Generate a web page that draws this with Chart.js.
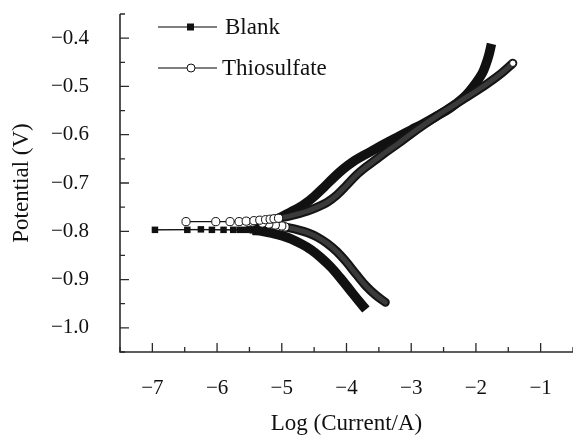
<!DOCTYPE html>
<html>
<head>
<meta charset="utf-8">
<script src="https://cdn.jsdelivr.net/npm/chart.js@4"></script>
<style>
  html, body { margin: 0; padding: 0; background: #fff; }
  #wrap { width: 573px; height: 435px; }
</style>
</head>
<body>
<div id="wrap"><canvas id="tafel"></canvas></div>
<script>
// ----------------------
// Polarisation data: log(current / A) vs potential (V)
// ----------------------
const blankCathodicLogI = [-3.70, -3.80, -3.95, -4.10, -4.25, -4.40, -4.55, -4.70, -4.85, -5.00, -5.15, -5.30, -5.45];
const blankCathodicE    = [-0.962, -0.946, -0.921, -0.896, -0.873, -0.854, -0.838, -0.826, -0.816, -0.809, -0.804, -0.800, -0.798];

const blankCorrLogI = [-5.45, -5.55, -5.75, -6.08, -6.46, -6.96, -6.25, -5.90, -5.65, -5.50, -5.40];
const blankCorrE    = [-0.798, -0.797, -0.797, -0.797, -0.797, -0.797, -0.796, -0.797, -0.797, -0.796, -0.795];

const blankAnodicLogI = [-5.40, -5.25, -5.10, -4.95, -4.80, -4.65, -4.50, -4.35, -4.20, -4.05, -3.90, -3.75, -3.60,
                         -3.40, -3.20, -3.00, -2.80, -2.60, -2.40, -2.20, -2.10, -2.00, -1.90, -1.85, -1.80, -1.76];
const blankAnodicE    = [-0.795, -0.788, -0.777, -0.766, -0.756, -0.744, -0.728, -0.709, -0.689, -0.671, -0.656, -0.644, -0.633,
                         -0.618, -0.604, -0.590, -0.576, -0.561, -0.545, -0.524, -0.510, -0.493, -0.472, -0.456, -0.435, -0.412];

const thioCathodicLogI = [-3.40, -3.55, -3.70, -3.85, -4.00, -4.15, -4.30, -4.45, -4.60, -4.75, -4.95];
const thioCathodicE    = [-0.947, -0.932, -0.913, -0.889, -0.864, -0.842, -0.825, -0.812, -0.803, -0.797, -0.791];

const thioCorrLogI = [-4.95, -5.00, -5.10, -5.20, -5.30, -5.45, -5.66, -6.02, -6.48,
                      -5.80, -5.55, -5.43, -5.34, -5.25, -5.18, -5.12, -5.05];
const thioCorrE    = [-0.791, -0.789, -0.787, -0.785, -0.783, -0.781, -0.780, -0.780, -0.780,
                      -0.780, -0.779, -0.778, -0.777, -0.776, -0.775, -0.774, -0.773];

const thioAnodicLogI = [-5.05, -4.90, -4.75, -4.60, -4.45, -4.30, -4.15, -4.00, -3.85, -3.70, -3.55,
                        -3.40, -3.20, -3.00, -2.80, -2.60, -2.40, -2.20, -2.00, -1.80, -1.60, -1.43];
const thioAnodicE    = [-0.773, -0.769, -0.764, -0.758, -0.750, -0.740, -0.725, -0.705, -0.684, -0.667, -0.652,
                        -0.637, -0.618, -0.598, -0.579, -0.561, -0.544, -0.527, -0.510, -0.492, -0.472, -0.452];

const seriesNames = ["Blank", "Thiosulfate"];

const pts = (xs, ys) => xs.map((x, i) => ({ x, y: ys[i] }));

const serif = "'Liberation Serif', 'Times New Roman', serif";
const ink = "#111";

// ----------------------
// Axes with inward ticks; x axis runs to the canvas edge
// ----------------------
const axesPlugin = {
  id: "axes",
  afterLayout(chart) {
    const x = chart.scales.x;
    const a = chart.chartArea;
    a.right = chart.width;
    a.width = a.right - a.left;
    x.right = chart.width;
    x.width = x.right - x.left;
    x.configure();
  },
  beforeDatasetsDraw(chart) {
    const { ctx, chartArea: a, scales: { x, y } } = chart;
    ctx.save();
    ctx.strokeStyle = "#2a2a2a";
    ctx.lineWidth = 1.6;
    ctx.beginPath();
    ctx.moveTo(a.left, a.top);
    ctx.lineTo(a.left, a.bottom);
    ctx.lineTo(a.right, a.bottom);
    ctx.stroke();

    ctx.lineWidth = 1.3;
    ctx.beginPath();
    x.ticks.forEach(t => {
      const px = x.getPixelForValue(t.value);
      const major = Math.abs(t.value - Math.round(t.value)) < 1e-6;
      ctx.moveTo(px, a.bottom);
      ctx.lineTo(px, a.bottom - (major ? 9 : 5));
    });
    y.ticks.forEach(t => {
      const py = y.getPixelForValue(t.value);
      const major = Math.round(t.value * 20) % 2 === 0;
      ctx.moveTo(a.left, py);
      ctx.lineTo(a.left + (major ? 9 : 5), py);
    });
    ctx.stroke();
    ctx.restore();
  }
};

// ----------------------
// Legend: line + marker + name
// ----------------------
const legendPlugin = {
  id: "tafelLegend",
  afterDraw(chart) {
    const { ctx } = chart;
    const rows = [
      { y: 27, textX: 225, marker: "square" },
      { y: 68, textX: 222, marker: "circle" }
    ];
    ctx.save();
    rows.forEach((r, i) => {
      ctx.strokeStyle = "#555";
      ctx.lineWidth = 1.4;
      ctx.beginPath();
      ctx.moveTo(158, r.y);
      ctx.lineTo(217, r.y);
      ctx.stroke();
      if (r.marker === "square") {
        ctx.fillStyle = ink;
        ctx.fillRect(187, r.y - 3.5, 7, 7);
      } else {
        ctx.fillStyle = "#fff";
        ctx.strokeStyle = ink;
        ctx.lineWidth = 1;
        ctx.beginPath();
        ctx.arc(191, r.y, 4, 0, Math.PI * 2);
        ctx.fill();
        ctx.stroke();
      }
      ctx.fillStyle = ink;
      ctx.font = "23px " + serif;
      ctx.textBaseline = "middle";
      ctx.fillText(seriesNames[i], r.textX, r.y + 1);
    });
    ctx.restore();
  }
};

const minus = s => (s.startsWith("-") ? "\u2212" + s.slice(1) : s);

// thick band for one polarisation branch
const band = (label, xs, ys, color, width, cap, order, extra) => Object.assign({
  label,
  data: pts(xs, ys),
  showLine: true,
  borderColor: color,
  borderWidth: width,
  borderCapStyle: cap,
  borderJoinStyle: "round",
  tension: 0.35,
  pointRadius: 0,
  order
}, extra || {});

new Chart(document.getElementById("tafel"), {
  type: "scatter",
  data: {
    datasets: [
      // Blank
      band("Blank cathodic", blankCathodicLogI, blankCathodicE, ink, 9.5, "butt", 6),
      band("Blank anodic", blankAnodicLogI, blankAnodicE, ink, 9.5, "butt", 6),
      {
        label: "Blank",
        data: pts(blankCorrLogI, blankCorrE),
        showLine: true, borderColor: ink, borderWidth: 1,
        pointStyle: "rect", pointRadius: 4.6, pointBackgroundColor: ink, pointBorderColor: ink, pointBorderWidth: 0,
        order: 5
      },
      // Thiosulfate
      band("Thiosulfate cathodic", thioCathodicLogI, thioCathodicE, "#141414", 9, "round", 4),
      band("Thiosulfate cathodic core", thioCathodicLogI, thioCathodicE, "#3a3a3a", 5, "round", 3),
      band("Thiosulfate anodic", thioAnodicLogI, thioAnodicE, "#141414", 9, "round", 4),
      band("Thiosulfate anodic core", thioAnodicLogI, thioAnodicE, "#3a3a3a", 5, "round", 3, {
        pointRadius: c => (c.dataIndex === thioAnodicLogI.length - 1 ? 3.2 : 0),
        pointBackgroundColor: "#fff", pointBorderColor: ink, pointBorderWidth: 1
      }),
      {
        label: "Thiosulfate",
        data: pts(thioCorrLogI, thioCorrE),
        showLine: true, borderColor: ink, borderWidth: 1,
        pointStyle: "circle", pointRadius: 4.1, pointBackgroundColor: "#fff", pointBorderColor: ink, pointBorderWidth: 1,
        order: 1
      }
    ]
  },
  options: {
    responsive: true,
    maintainAspectRatio: false,
    animation: false,
    layout: { padding: { top: 14, right: 0, left: 0, bottom: 0 } },
    plugins: {
      legend: { display: false },
      tooltip: { enabled: false }
    },
    scales: {
      x: {
        type: "linear",
        min: -7.5, max: -0.5,
        grid: { display: false },
        border: { display: false },
        afterFit: s => { s.height = 83; s.paddingLeft = 0; s.paddingRight = 0; },
        ticks: {
          stepSize: 0.5, autoSkip: false, maxRotation: 0, padding: 16,
          color: ink, font: { family: serif, size: 21 },
          callback: v => (Math.abs(v - Math.round(v)) < 1e-6 ? minus(String(Math.round(v))) : "")
        },
        title: {
          display: true, text: "Log (Current/A)", color: ink,
          font: { family: serif, size: 23 }, padding: { top: 0, bottom: -3 }
        }
      },
      y: {
        type: "linear",
        min: -1.05, max: -0.35,
        grid: { display: false },
        border: { display: false },
        afterFit: s => { s.width = 120; s.paddingTop = 0; s.paddingBottom = 0; },
        ticks: {
          stepSize: 0.05, autoSkip: false, padding: 23,
          color: ink, font: { family: serif, size: 21 },
          callback: v => {
            const k = Math.round(v * 20);
            return k % 2 === 0 ? minus((k / 20).toFixed(1)) : "";
          }
        },
        title: {
          display: true, text: "Potential (V)", color: ink,
          font: { family: serif, size: 23 }, padding: { top: 8, bottom: 0 }
        }
      }
    }
  },
  plugins: [axesPlugin, legendPlugin]
});
</script>
</body>
</html>
